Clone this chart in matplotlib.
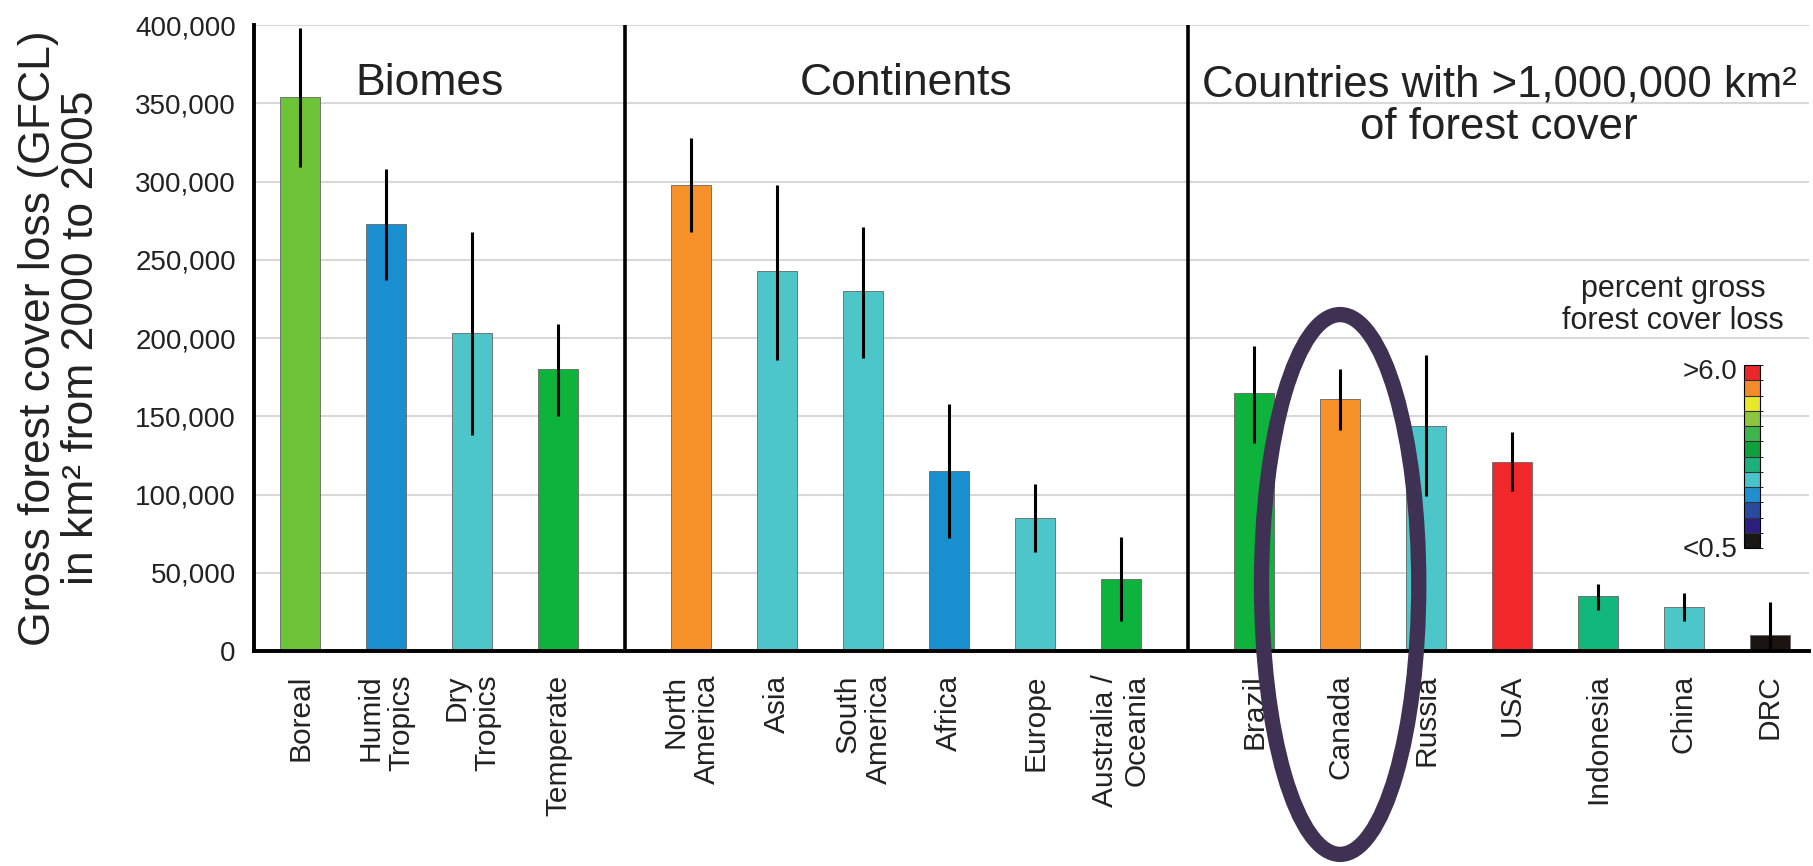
import matplotlib
matplotlib.use("Agg")
from matplotlib import pyplot as plt
from matplotlib.colors import ListedColormap, BoundaryNorm
from matplotlib.colorbar import ColorbarBase
from matplotlib.patches import Ellipse
import numpy as np

plt.rcParams['font.family'] = ['Liberation Sans', 'DejaVu Sans']

# groups of bars
groups = ['Biomes', 'Continents', 'Countries with >1,000,000 km²\nof forest cover']

biome_names = ['Boreal', 'Humid\nTropics', 'Dry\nTropics', 'Temperate']
biome_loss = [354000, 273000, 203000, 180000]
biome_err_lo = [45000, 36000, 65000, 30000]
biome_err_hi = [44000, 35000, 65000, 29000]
biome_colors = ['#6cc436', '#1a8fcf', '#4cc6c8', '#0db33a']

continent_names = ['North\nAmerica', 'Asia', 'South\nAmerica', 'Africa', 'Europe', 'Australia /\nOceania']
continent_loss = [298000, 243000, 230000, 115000, 85000, 46000]
continent_err_lo = [30000, 57000, 43000, 43000, 22000, 27000]
continent_err_hi = [30000, 55000, 41000, 43000, 22000, 27000]
continent_colors = ['#f7922a', '#4cc6c8', '#4cc6c8', '#1a8fcf', '#4cc6c8', '#0db33a']

country_names = ['Brazil', 'Canada', 'Russia', 'USA', 'Indonesia', 'China', 'DRC']
country_loss = [165000, 161000, 144000, 121000, 35000, 28000, 10000]
country_err_lo = [32000, 20000, 45000, 19000, 9000, 9000, 10000]
country_err_hi = [30000, 19000, 45000, 19000, 8000, 9000, 21000]
country_colors = ['#0db33a', '#f7922a', '#4cc6c8', '#f0282a', '#12b77c', '#4cc6c8', '#1c1410']

# legend scale, bottom to top
scale_colors = ['#1a1614', '#2d1f80', '#2a4aa0', '#1e90d0', '#4bc3cc', '#1bb07c',
                '#0fa03c', '#3db54a', '#8cc63e', '#e8e82a', '#f58a2a', '#e8262b']
scale_labels = ['<0.5', '>6.0']

fig = plt.figure(figsize=(18.13, 8.66), dpi=100)
ax = fig.add_axes([0.140, 0.2483, 0.858, 0.7227])

gap = 1.55
all_sets = [
    (biome_names, biome_loss, biome_err_lo, biome_err_hi, biome_colors),
    (continent_names, continent_loss, continent_err_lo, continent_err_hi, continent_colors),
    (country_names, country_loss, country_err_lo, country_err_hi, country_colors),
]

start = 0.0
tick_pos = []
tick_lab = []
centers = []
dividers = []
canada_x = None
for names, loss, lo, hi, cols in all_sets:
    x = start + np.arange(len(names))
    ax.bar(x, loss, width=0.47, color=cols, edgecolor='#666666', linewidth=0.6, zorder=2)
    ax.errorbar(x, loss, yerr=[lo, hi], fmt='none', ecolor='black', elinewidth=2.2,
                capsize=0, zorder=3)
    tick_pos.extend(x)
    tick_lab.extend(names)
    centers.append((x[0] + x[-1]) / 2)
    if 'Canada' in names:
        canada_x = x[names.index('Canada')]
    start = x[-1] + gap
    dividers.append(x[-1] + gap / 2)

for d in dividers[:-1]:
    ax.axvline(d, color='black', lw=2.6, zorder=4)

ax.set_xlim(-0.54, tick_pos[-1] + 0.46)
ax.set_ylim(0, 400000)
ax.set_yticks(np.arange(0, 400001, 50000))
ax.set_yticklabels([f'{v:,}' for v in range(0, 400001, 50000)])
ax.yaxis.grid(True, color='#d8d8d8', lw=1.5, zorder=0)
ax.set_axisbelow(True)

ax.set_xticks(tick_pos)
ax.set_xticklabels(tick_lab, rotation=90, ha='center', va='top', multialignment='right',
                   linespacing=1.15)
ax.tick_params(axis='x', length=0, pad=17, labelsize=21.5, colors='#222222')
ax.tick_params(axis='y', length=0, pad=13, labelsize=20, colors='#222222')

for s in ['top', 'right']:
    ax.spines[s].set_visible(False)
for s in ['left', 'bottom']:
    ax.spines[s].set_linewidth(2.8)

# group headings
ax.text(centers[0], 363000, groups[0], ha='center', va='center', fontsize=32, color='#222222')
ax.text(centers[1], 363000, groups[1], ha='center', va='center', fontsize=32, color='#222222')
ax.text(centers[2] - 0.15, 348000, groups[2], ha='center', va='center', fontsize=31.5,
        color='#222222', linespacing=1.05)

fig.text(60 / 1813, 1 - 338 / 866, 'Gross forest cover loss (GFCL)\nin km² from 2000 to 2005',
         rotation=90, ha='center', va='center', fontsize=32, linespacing=1.05, color='#222222')

# legend scale
cax = fig.add_axes([1744 / 1813, 1 - 548 / 866, 16 / 1813, 183 / 866])
cmap = ListedColormap(scale_colors)
norm = BoundaryNorm(np.arange(len(scale_colors) + 1), cmap.N)
cb = ColorbarBase(cax, cmap=cmap, norm=norm, drawedges=True)
cb.outline.set_linewidth(0.8)
cb.dividers.set_linewidth(0.8)
cb.dividers.set_color('#333333')
cax.set_yticks([])
fig.text(1737 / 1813, 1 - 372 / 866, scale_labels[1], ha='right', va='center', fontsize=20, color='#222222')
fig.text(1737 / 1813, 1 - 550 / 866, scale_labels[0], ha='right', va='center', fontsize=20, color='#222222')
fig.text(1673 / 1813, 1 - 305 / 866, 'percent gross\nforest cover loss', ha='center', va='center',
         fontsize=22, linespacing=1.1, color='#222222')

# highlight ring around Canada
ring = Ellipse((canada_x, 42500), width=1.83, height=345000, fill=False,
               edgecolor='#3f3154', lw=11, clip_on=False, zorder=6)
ax.add_patch(ring)

fig.savefig('out.png', dpi=100)
